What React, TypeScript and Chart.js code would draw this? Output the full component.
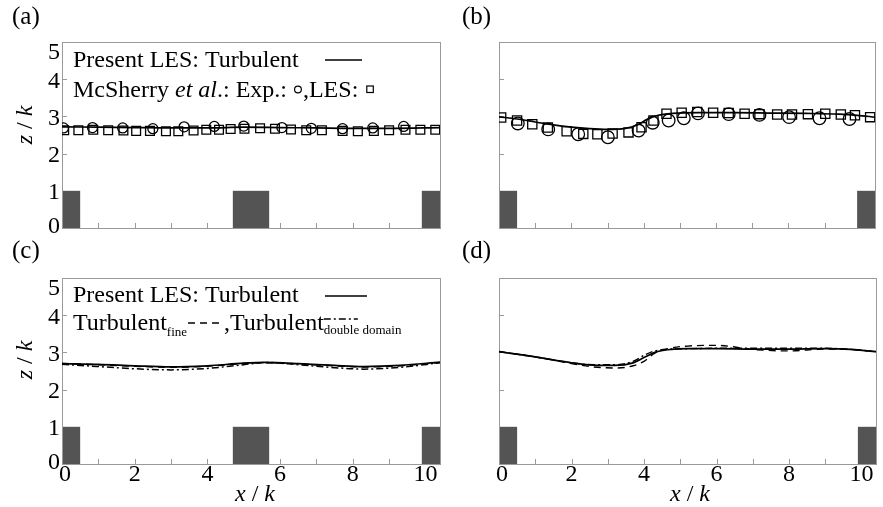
import React, { useEffect, useRef } from 'react';
import { Chart, registerables } from 'chart.js';

Chart.register(...registerables);

// ---------- data ----------
const X_MIN = 0;
const X_MAX = 10.4;
const Y_MIN = 0;
const Y_MAX = 5;
const yTickLabels = ['0', '1', '2', '3', '4', '5'];
const xTickLabels = ['0', '2', '4', '6', '8', '10'];

// roughness elements (x extents), height 1 k
const blocksThree = [[0, 0.5], [4.7, 5.7], [9.9, 10.4]];
const blocksTwo = [[0, 0.5], [9.9, 10.4]];
const blockHeight = 1;

// (a)
const aLesLineX = [0, 1, 2, 3, 4, 5, 6, 7, 8, 9, 10.4];
const aLesLineZ = [2.72, 2.71, 2.7, 2.69, 2.69, 2.71, 2.7, 2.69, 2.68, 2.68, 2.7];
const aExpX = [0.04, 0.84, 1.67, 2.5, 3.36, 4.19, 5.0, 6.05, 6.86, 7.72, 8.55, 9.4];
const aExpZ = [2.69, 2.7, 2.69, 2.67, 2.72, 2.73, 2.74, 2.7, 2.68, 2.67, 2.69, 2.73];
const aMcLesX = [0.06, 0.45, 0.86, 1.27, 1.69, 2.04, 2.42, 2.86, 3.2, 3.62, 3.97, 4.32, 4.64, 5.02, 5.45, 5.86, 6.3, 6.72, 7.15, 7.72, 8.14, 8.58, 9.0, 9.45, 9.86, 10.27];
const aMcLesZ = [2.63, 2.63, 2.64, 2.63, 2.62, 2.61, 2.61, 2.6, 2.6, 2.62, 2.64, 2.64, 2.66, 2.67, 2.68, 2.67, 2.65, 2.63, 2.63, 2.61, 2.6, 2.61, 2.63, 2.64, 2.64, 2.64];

// (b)
const bLineX = [0, 0.5, 1, 1.5, 2, 2.5, 3, 3.5, 3.8, 4.1, 4.4, 4.8, 5.5, 6.5, 7.5, 8.5, 9.4, 9.9, 10.4];
const bLineZ = [2.99, 2.93, 2.85, 2.77, 2.71, 2.67, 2.65, 2.68, 2.76, 2.92, 3.03, 3.08, 3.1, 3.1, 3.09, 3.08, 3.06, 3.03, 2.98];
const bExpX = [0.52, 1.36, 2.19, 3.01, 3.86, 4.25, 4.69, 5.11, 5.5, 6.35, 7.2, 8.02, 8.86, 9.69];
const bExpZ = [2.81, 2.65, 2.52, 2.44, 2.62, 2.83, 2.89, 2.95, 3.08, 3.06, 3.04, 2.98, 2.95, 2.93];
const bMcLesX = [0.06, 0.5, 0.92, 1.35, 1.87, 2.33, 2.72, 3.14, 3.58, 3.94, 4.27, 4.63, 5.05, 5.48, 5.92, 6.35, 6.79, 7.2, 7.69, 8.1, 8.54, 9.02, 9.45, 9.84, 10.26];
const bMcLesZ = [2.97, 2.89, 2.79, 2.7, 2.6, 2.53, 2.52, 2.54, 2.57, 2.71, 2.89, 3.07, 3.1, 3.12, 3.1, 3.09, 3.07, 3.06, 3.05, 3.05, 3.06, 3.07, 3.05, 3.03, 2.98];

// (c)
const cX = [0, 1, 2, 3, 4, 5, 5.6, 6.5, 7.5, 8.3, 9.3, 10.4];
const cTurb = [2.7, 2.68, 2.64, 2.61, 2.64, 2.71, 2.73, 2.7, 2.65, 2.62, 2.65, 2.74];
const cFine = [2.7, 2.67, 2.63, 2.6, 2.63, 2.7, 2.72, 2.69, 2.64, 2.61, 2.64, 2.73];
const cDouble = [2.68, 2.62, 2.56, 2.53, 2.57, 2.67, 2.73, 2.67, 2.59, 2.55, 2.6, 2.72];

// (d)
const dX = [0, 1, 2, 2.6, 3.2, 3.7, 4.0, 4.3, 4.75, 5.2, 6, 7, 8, 9, 9.7, 10.4];
const dTurb = [3.02, 2.88, 2.72, 2.66, 2.65, 2.72, 2.86, 3.0, 3.08, 3.1, 3.1, 3.09, 3.09, 3.1, 3.08, 3.02];
const dFine = [3.02, 2.88, 2.7, 2.61, 2.58, 2.64, 2.76, 2.98, 3.12, 3.17, 3.19, 3.08, 3.04, 3.09, 3.08, 3.02];
const dDouble = [3.02, 2.88, 2.72, 2.67, 2.67, 2.76, 2.92, 3.04, 3.09, 3.1, 3.11, 3.11, 3.11, 3.11, 3.08, 3.02];

// ---------- style ----------
const W = 883;
const H = 507;
const FONT = '"Liberation Serif", "Times New Roman", serif';
const FS = 24;
const BORDER_COLOR = '#9a9a9a';
const BLOCK_COLOR = '#545454';
const DASHED = [7, 5];
const DASHDOT = [7, 3, 2, 3];

const pts = (xs: number[], ys: number[]) => xs.map((x, i) => ({ x, y: ys[i] }));

const lineDs = (label: string, xs: number[], ys: number[], dash: number[] = [], width = 1.7) => ({
  label,
  data: pts(xs, ys),
  showLine: true,
  borderColor: '#000',
  borderWidth: width,
  borderDash: dash,
  pointRadius: 0,
  cubicInterpolationMode: 'monotone',
  fill: false,
});

const markerDs = (label: string, xs: number[], ys: number[], style: string, r: number) => ({
  label,
  data: pts(xs, ys),
  showLine: false,
  pointStyle: style,
  pointRadius: r,
  pointBorderColor: '#000',
  pointBackgroundColor: 'rgba(0,0,0,0)',
  pointBorderWidth: 1.3,
  borderColor: '#000',
  backgroundColor: 'rgba(0,0,0,0)',
});

type Seg = { t: string; italic?: boolean; size?: number; dy?: number };

function fontOf(s: Seg) {
  return `${s.italic ? 'italic ' : ''}${s.size || FS}px ${FONT}`;
}
function measureRich(ctx: CanvasRenderingContext2D, segs: Seg[]) {
  let w = 0;
  for (const s of segs) {
    ctx.font = fontOf(s);
    w += ctx.measureText(s.t).width;
  }
  return w;
}
function drawRich(ctx: CanvasRenderingContext2D, x: number, y: number, segs: Seg[]) {
  let cx = x;
  ctx.textAlign = 'left';
  ctx.textBaseline = 'alphabetic';
  ctx.fillStyle = '#000';
  for (const s of segs) {
    ctx.font = fontOf(s);
    ctx.fillText(s.t, cx, y + (s.dy || 0));
    cx += ctx.measureText(s.t).width;
  }
  return cx;
}
function hLine(ctx: CanvasRenderingContext2D, x0: number, x1: number, y: number, dash: number[]) {
  ctx.save();
  ctx.strokeStyle = '#000';
  ctx.lineWidth = 1.7;
  ctx.setLineDash(dash);
  ctx.beginPath();
  ctx.moveTo(x0, y);
  ctx.lineTo(x1, y);
  ctx.stroke();
  ctx.restore();
}

type Area = { left: number; top: number; right: number; bottom: number };
type Spec = {
  id: string;
  area: Area;
  blocks: number[][];
  label: string;
  labelPos: [number, number];
  xLabels: boolean;
  yLabels: boolean;
  yTitleY?: number;
  xTitleX?: number;
  legend?: 'mc' | 'fine';
  datasets: any[];
};

function panelPlugin(spec: Spec) {
  return {
    id: 'panel_' + spec.id,
    beforeDatasetsDraw(chart: any) {
      const { ctx, chartArea: a, scales } = chart;
      const xs = scales.x;
      const ys = scales.y;
      ctx.save();
      // inward ticks
      ctx.strokeStyle = BORDER_COLOR;
      ctx.lineWidth = 1;
      ctx.beginPath();
      xs.ticks.forEach((t: any) => {
        if (t.value <= X_MIN || t.value >= X_MAX) return;
        const px = Math.round(xs.getPixelForValue(t.value)) + 0.5;
        ctx.moveTo(px, a.bottom);
        ctx.lineTo(px, a.bottom - 5);
      });
      ys.ticks.forEach((t: any) => {
        if (t.value <= Y_MIN || t.value >= Y_MAX) return;
        const py = Math.round(ys.getPixelForValue(t.value)) + 0.5;
        ctx.moveTo(a.left, py);
        ctx.lineTo(a.left + 5, py);
      });
      ctx.stroke();
      // roughness blocks
      ctx.fillStyle = BLOCK_COLOR;
      spec.blocks.forEach(([x0, x1]) => {
        const l = xs.getPixelForValue(x0);
        const r = xs.getPixelForValue(x1);
        const t = ys.getPixelForValue(blockHeight);
        const b = ys.getPixelForValue(0);
        ctx.fillRect(l, t, r - l, b - t);
      });
      // frame
      ctx.strokeStyle = BORDER_COLOR;
      ctx.strokeRect(Math.round(a.left) + 0.5, Math.round(a.top) + 0.5, Math.round(a.right - a.left), Math.round(a.bottom - a.top));
      ctx.restore();
    },
    afterDraw(chart: any) {
      const { ctx, chartArea: a, scales } = chart;
      const xs = scales.x;
      const ys = scales.y;
      ctx.save();
      ctx.fillStyle = '#000';
      ctx.font = `${FS}px ${FONT}`;
      ctx.textBaseline = 'alphabetic';
      // y tick labels (kept inside the frame at the ends, like the original)
      if (spec.yLabels) {
        ctx.textAlign = 'right';
        ys.ticks.forEach((t: any) => {
          const lbl = yTickLabels[t.value];
          if (lbl === undefined) return;
          let base = ys.getPixelForValue(t.value) + 8.5;
          base = Math.max(base, a.top + 17);
          base = Math.min(base, a.bottom + 5);
          ctx.fillText(lbl, a.left - 2, base);
        });
      }
      // x tick labels
      if (spec.xLabels) {
        ctx.textAlign = 'center';
        xs.ticks.forEach((t: any) => {
          const s = String(t.value);
          if (!xTickLabels.includes(s)) return;
          ctx.fillText(s, xs.getPixelForValue(t.value) + (t.value === 0 ? 3 : 0), a.bottom + 17);
        });
      }
      // panel label
      drawRich(ctx, spec.labelPos[0], spec.labelPos[1], [{ t: spec.label, size: 25 }]);
      // y title
      if (spec.yTitleY !== undefined) {
        const segs: Seg[] = [{ t: 'z', italic: true }, { t: ' / ' }, { t: 'k', italic: true }];
        const w = measureRich(ctx, segs);
        ctx.save();
        ctx.translate(32, spec.yTitleY);
        ctx.rotate(-Math.PI / 2);
        drawRich(ctx, -w / 2, 0, segs);
        ctx.restore();
      }
      // x title
      if (spec.xTitleX !== undefined) {
        const segs: Seg[] = [{ t: 'x', italic: true }, { t: ' / ' }, { t: 'k', italic: true }];
        const w = measureRich(ctx, segs);
        drawRich(ctx, spec.xTitleX - w / 2, 501, segs);
      }
      // legends
      if (spec.legend === 'mc') {
        drawRich(ctx, 73, 67, [{ t: 'Present LES: Turbulent' }]);
        hLine(ctx, 325, 362, 60, []);
        let x = drawRich(ctx, 73, 97, [{ t: 'McSherry ' }, { t: 'et al', italic: true }, { t: '.: Exp.: ' }]);
        ctx.strokeStyle = '#000';
        ctx.lineWidth = 1.2;
        ctx.beginPath();
        ctx.arc(x + 5, 89.5, 3.4, 0, Math.PI * 2);
        ctx.stroke();
        x = drawRich(ctx, x + 10, 97, [{ t: ',LES: ' }]);
        ctx.strokeRect(x + 2.5, 86, 6.5, 6.5);
      } else if (spec.legend === 'fine') {
        drawRich(ctx, 73, 302, [{ t: 'Present LES: Turbulent' }]);
        hLine(ctx, 325, 367, 296, []);
        let x = drawRich(ctx, 73, 330, [{ t: 'Turbulent' }, { t: 'fine', size: 13, dy: 6 }]);
        hLine(ctx, x + 1, x + 35, 323, DASHED);
        x = drawRich(ctx, x + 37, 330, [{ t: ',Turbulent' }]);
        hLine(ctx, x, x + 34, 319, DASHDOT);
        drawRich(ctx, x, 334, [{ t: 'double domain', size: 13 }]);
      }
      ctx.restore();
    },
  };
}

function makeConfig(spec: Spec): any {
  const a = spec.area;
  return {
    type: 'scatter',
    data: { datasets: spec.datasets },
    options: {
      animation: false,
      responsive: false,
      maintainAspectRatio: false,
      events: [],
      layout: { padding: { left: 0, top: a.top, right: W - a.right, bottom: 0 } },
      plugins: { legend: { display: false }, tooltip: { enabled: false } },
      scales: {
        x: {
          type: 'linear',
          position: 'bottom',
          min: X_MIN,
          max: X_MAX,
          grid: { display: false, drawTicks: false },
          border: { display: false },
          ticks: { display: false, stepSize: 1, includeBounds: false, autoSkip: false },
          afterFit: (s: any) => {
            s.height = H - a.bottom;
          },
        },
        y: {
          type: 'linear',
          position: 'left',
          min: Y_MIN,
          max: Y_MAX,
          grid: { display: false, drawTicks: false },
          border: { display: false },
          ticks: { display: false, stepSize: 1, autoSkip: false },
          afterFit: (s: any) => {
            s.width = a.left;
          },
        },
      },
    },
    plugins: [panelPlugin(spec)],
  };
}

const specs: Spec[] = [
  {
    id: 'a',
    area: { left: 62, top: 42, right: 440, bottom: 228 },
    blocks: blocksThree,
    label: '(a)',
    labelPos: [12, 24],
    xLabels: false,
    yLabels: true,
    yTitleY: 125,
    legend: 'mc',
    datasets: [
      markerDs('McSherry et al. LES', aMcLesX, aMcLesZ, 'rect', 6.2),
      markerDs('McSherry et al. Exp.', aExpX, aExpZ, 'circle', 5),
      lineDs('Present LES: Turbulent', aLesLineX, aLesLineZ),
    ],
  },
  {
    id: 'b',
    area: { left: 499, top: 42, right: 876, bottom: 228 },
    blocks: blocksTwo,
    label: '(b)',
    labelPos: [462, 24],
    xLabels: false,
    yLabels: false,
    datasets: [
      markerDs('McSherry et al. LES', bMcLesX, bMcLesZ, 'rect', 6.5),
      markerDs('McSherry et al. Exp.', bExpX, bExpZ, 'circle', 6.3),
      lineDs('Present LES: Turbulent', bLineX, bLineZ),
    ],
  },
  {
    id: 'c',
    area: { left: 62, top: 278, right: 440, bottom: 464 },
    blocks: blocksThree,
    label: '(c)',
    labelPos: [12, 258],
    xLabels: true,
    yLabels: true,
    yTitleY: 360,
    xTitleX: 255,
    legend: 'fine',
    datasets: [
      lineDs('Turbulent double domain', cX, cDouble, DASHDOT, 1.5),
      lineDs('Turbulent fine', cX, cFine, DASHED, 1.5),
      lineDs('Present LES: Turbulent', cX, cTurb),
    ],
  },
  {
    id: 'd',
    area: { left: 499, top: 278, right: 876, bottom: 464 },
    blocks: blocksTwo,
    label: '(d)',
    labelPos: [462, 258],
    xLabels: true,
    yLabels: false,
    xTitleX: 690,
    datasets: [
      lineDs('Turbulent double domain', dX, dDouble, DASHDOT, 1.4),
      lineDs('Turbulent fine', dX, dFine, DASHED, 1.4),
      lineDs('Present LES: Turbulent', dX, dTurb),
    ],
  },
];

function Panel({ spec }: { spec: Spec }) {
  const ref = useRef<HTMLCanvasElement | null>(null);
  useEffect(() => {
    if (!ref.current) return;
    const chart = new Chart(ref.current, makeConfig(spec));
    return () => chart.destroy();
  }, [spec]);
  return (
    <canvas
      ref={ref}
      width={W}
      height={H}
      style={{ position: 'absolute', left: 0, top: 0, width: W, height: H }}
    />
  );
}

export default function App() {
  return (
    <div style={{ position: 'fixed', left: 0, top: 0, width: W, height: H, background: '#fff', overflow: 'hidden' }}>
      {specs.map((s) => (
        <Panel key={s.id} spec={s} />
      ))}
    </div>
  );
}
